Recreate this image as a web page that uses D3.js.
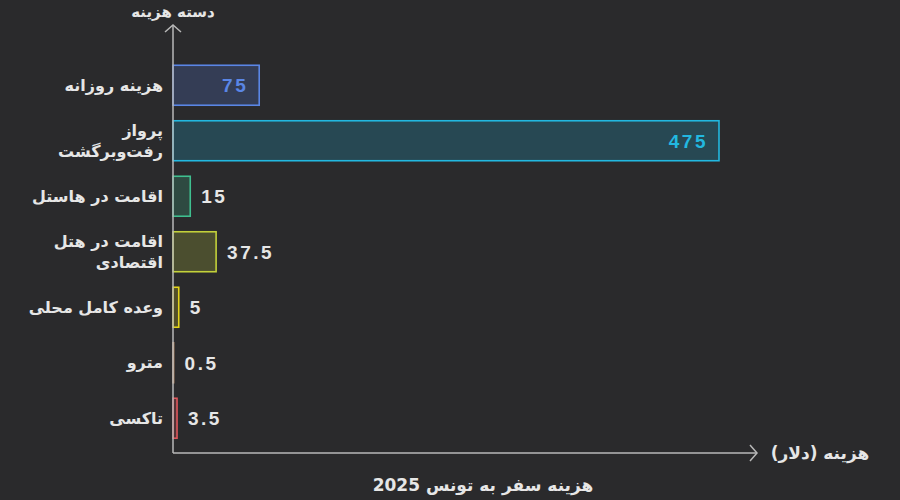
<!DOCTYPE html>
<html>
<head>
<meta charset="utf-8">
<script src="https://cdn.jsdelivr.net/npm/d3@7"></script>
<style>
  body { margin: 0; background: #2a2a2c; }
  svg { display: block; }
  text { font-family: "DejaVu Sans", "Noto Sans", sans-serif; }
</style>
</head>
<body>
<div id="chart"></div>
<script>
// data
const categories = [
  ["هزینه روزانه"],
  ["پرواز", "رفت‌وبرگشت"],
  ["اقامت در هاستل"],
  ["اقامت در هتل", "اقتصادی"],
  ["وعده کامل محلی"],
  ["مترو"],
  ["تاکسی"]
];
const values = [75, 475, 15, 37.5, 5, 0.5, 3.5];
const colors = ["#5a86e6", "#22b8e0", "#3fbf8f", "#c3d13a", "#e3d417", "#c4936e", "#e0565b"];
const insideLabel = [true, true, false, false, false, false, false];

const W = 900, H = 500;
const x0 = 173, yTop = 25, yBot = 453, xEnd = 757;

const svg = d3.select("#chart").append("svg")
  .attr("width", W).attr("height", H);

svg.append("rect").attr("width", W).attr("height", H).attr("fill", "#2a2a2c");

let x = d3.scaleLinear()
  .domain([0, 475])
  .range([x0, 719]);

let y = d3.scaleBand()
  .domain(d3.range(values.length))
  .range([57.5, 446])
  .paddingInner(0.28)
  .paddingOuter(0.14);

// bars
svg.selectAll(".bar")
  .data(values)
  .enter().append("rect")
  .attr("class", "bar")
  .attr("x", x(0))
  .attr("y", (d, i) => y(i))
  .attr("width", d => x(d) - x(0))
  .attr("height", y.bandwidth())
  .attr("fill", (d, i) => colors[i])
  .attr("fill-opacity", 0.22)
  .attr("stroke", (d, i) => colors[i])
  .attr("stroke-width", 1.6);

// value labels
svg.selectAll(".val")
  .data(values)
  .enter().append("text")
  .attr("class", "val")
  .attr("x", (d, i) => insideLabel[i] ? x(d) - 11 : x(d) + 11)
  .attr("y", (d, i) => y(i) + y.bandwidth() / 2)
  .attr("dy", "0.36em")
  .attr("text-anchor", (d, i) => insideLabel[i] ? "end" : "start")
  .attr("fill", (d, i) => insideLabel[i] ? colors[i] : "#e6e6e6")
  .style("font-family", "'Liberation Sans', Arial, sans-serif")
  .style("font-size", "19px")
  .style("font-weight", "bold")
  .style("letter-spacing", "2.5px")
  .text(d => d);

// category labels (rtl, so "start" sits on the right)
const lab = svg.selectAll(".cat")
  .data(categories)
  .enter().append("text")
  .attr("class", "cat")
  .attr("direction", "rtl")
  .attr("x", 163)
  .attr("y", (d, i) => y(i) + y.bandwidth() / 2 - (d.length - 1) * 10.5)
  .attr("text-anchor", "start")
  .attr("fill", "#e6e6e6")
  .style("font-size", "16px")
  .style("font-weight", "bold");

lab.selectAll("tspan")
  .data(d => d)
  .enter().append("tspan")
  .attr("x", 163)
  .attr("dy", (d, i) => i === 0 ? "0.35em" : "1.35em")
  .text(d => d);

// axes with arrows
const axisColor = "#b8b8b8";
svg.append("line")
  .attr("x1", x0).attr("x2", x0).attr("y1", yTop).attr("y2", yBot)
  .attr("stroke", axisColor).attr("stroke-width", 1.5);
svg.append("path")
  .attr("d", `M${x0 - 8},${yTop + 7}L${x0},${yTop}L${x0 + 8},${yTop + 7}`)
  .attr("fill", "none").attr("stroke", axisColor).attr("stroke-width", 1.5);

svg.append("line")
  .attr("x1", x0).attr("x2", xEnd).attr("y1", yBot).attr("y2", yBot)
  .attr("stroke", axisColor).attr("stroke-width", 1.5);
svg.append("path")
  .attr("d", `M${xEnd - 7},${yBot - 8}L${xEnd},${yBot}L${xEnd - 7},${yBot + 8}`)
  .attr("fill", "none").attr("stroke", axisColor).attr("stroke-width", 1.5);

// axis titles
svg.append("text")
  .attr("x", 173).attr("y", 17)
  .attr("text-anchor", "middle")
  .attr("fill", "#e6e6e6")
  .style("font-size", "15px").style("font-weight", "bold")
  .attr("direction", "rtl")
  .text("دسته هزینه");

svg.append("text")
  .attr("x", 820).attr("y", yBot)
  .attr("dy", "0.35em")
  .attr("text-anchor", "middle")
  .attr("fill", "#e6e6e6")
  .style("font-size", "17px").style("font-weight", "bold")
  .attr("direction", "rtl")
  .text("هزینه (دلار)");

svg.append("text")
  .attr("x", 483).attr("y", 485)
  .attr("dy", "0.35em")
  .attr("text-anchor", "middle")
  .attr("fill", "#e6e6e6")
  .style("font-size", "17px").style("font-weight", "bold")
  .attr("direction", "rtl")
  .text("هزینه سفر به تونس 2025");
</script>
</body>
</html>
